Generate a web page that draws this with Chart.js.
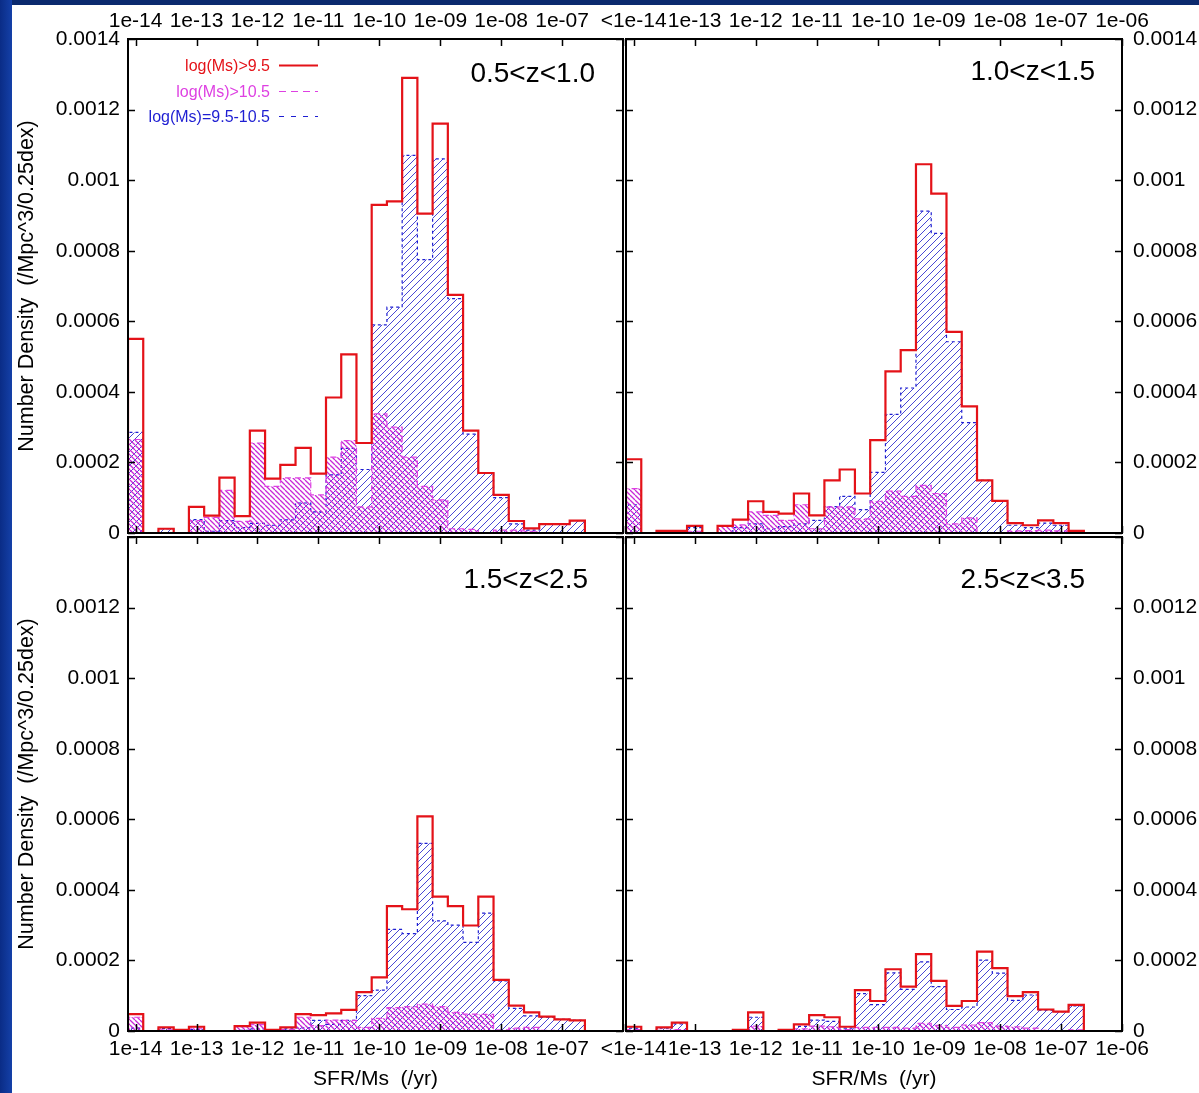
<!DOCTYPE html>
<html>
<head>
<meta charset="utf-8">
<title>Specific star formation rate distributions</title>
<script src="https://cdn.jsdelivr.net/npm/chart.js@4.4.1/dist/chart.umd.min.js"></script>
<style>
  html, body { margin: 0; padding: 0; background: #ffffff; }
  body { width: 1199px; height: 1093px; position: relative; overflow: hidden; }
  .band-top { position: absolute; left: 0; top: 0; width: 1199px; height: 5px; background: #0b2a6e; }
  .band-left { position: absolute; left: 0; top: 0; width: 12px; height: 1093px;
               background: linear-gradient(to right, #0a2c86, #1440a8); }
  canvas.panel { position: absolute; }
</style>
</head>
<body>
<div class="band-top"></div>
<div class="band-left"></div>
<canvas class="panel" id="p1" width="640" height="560" style="left:0px;top:0px;"></canvas>
<canvas class="panel" id="p2" width="639" height="560" style="left:560px;top:0px;"></canvas>
<canvas class="panel" id="p3" width="640" height="583" style="left:0px;top:510px;"></canvas>
<canvas class="panel" id="p4" width="639" height="583" style="left:560px;top:510px;"></canvas>
<script>
// log10(SFR/Ms) bin centres, 0.25 dex wide; the first bin collects everything below 1e-14
const sSFRBinCenters = [-14.0, -13.75, -13.5, -13.25, -13.0, -12.75, -12.5, -12.25, -12.0, -11.75,
                        -11.5, -11.25, -11.0, -10.75, -10.5, -10.25, -10.0, -9.75, -9.5, -9.25,
                        -9.0, -8.75, -8.5, -8.25, -8.0, -7.75, -7.5, -7.25, -7.0, -6.75];
const binWidthDex = 0.25;

const decadeTicks = [-14, -13, -12, -11, -10, -9, -8, -7, -6];
const leftTickLabels = ['1e-14', '1e-13', '1e-12', '1e-11', '1e-10', '1e-09', '1e-08', '1e-07', ''];
const rightTickLabels = ['<1e-14', '1e-13', '1e-12', '1e-11', '1e-10', '1e-09', '1e-08', '1e-07', '1e-06'];
const densityTicks = [0, 0.0002, 0.0004, 0.0006, 0.0008, 0.001, 0.0012, 0.0014];

const panelTitles = ['0.5<z<1.0', '1.0<z<1.5', '1.5<z<2.5', '2.5<z<3.5'];
const seriesNames = ['log(Ms)>9.5', 'log(Ms)>10.5', 'log(Ms)=9.5-10.5'];
const xAxisTitle = 'SFR/Ms  (/yr)';
const yAxisTitle = 'Number Density  (/Mpc^3/0.25dex)';

// number density per 0.25 dex, 0.5<z<1.0
const allMassZ1  = [0.00055, 0, 0.000012, 0, 0.000074, 0.000049, 0.000157, 0.000048, 0.00029, 0.000154,
                    0.000193, 0.000241, 0.000168, 0.000384, 0.000506, 0.000255, 0.00093, 0.00094, 0.00129, 0.000905,
                    0.00116, 0.000675, 0.00029, 0.00017, 0.000108, 0.000034, 0.000013, 0.000025, 0.000025, 0.000035];
const highMassZ1 = [0.000265, 0, 0, 0, 0.000035, 0.000044, 0.000121, 0.000033, 0.000255, 0.000132,
                    0.000156, 0.000156, 0.000108, 0.000215, 0.000262, 0.000074, 0.000338, 0.0003, 0.000215, 0.000132,
                    0.000094, 0.000012, 0.00001, 0, 0.000008, 0.000008, 0.000005, 0, 0, 0];
const midMassZ1  = [0.000285, 0, 0.000012, 0, 0.000038, 0.000005, 0.000035, 0.000015, 0.000027, 0.000022,
                    0.000037, 0.000085, 0.00006, 0.000165, 0.00024, 0.00018, 0.00059, 0.00064, 0.00107, 0.000775,
                    0.00106, 0.000664, 0.00028, 0.00017, 0.0001, 0.000026, 0.000008, 0.000025, 0.000025, 0.000035];

// 1.0<z<1.5
const allMassZ2  = [0.000209, 0, 0.000006, 0.000006, 0.00002, 0, 0.00002, 0.000038, 0.00009, 0.00006,
                    0.000055, 0.000112, 0.00005, 0.000149, 0.00018, 0.000112, 0.000263, 0.000458, 0.000518, 0.001045,
                    0.000962, 0.00057, 0.000359, 0.000149, 0.000091, 0.000028, 0.000022, 0.000036, 0.000028, 0.000006];
const highMassZ2 = [0.000126, 0, 0, 0, 0.000005, 0, 0.00002, 0.000023, 0.00006, 0.00005,
                    0.000036, 0.00008, 0.000012, 0.000074, 0.000074, 0.00004, 0.00009, 0.000119, 0.000104, 0.000135,
                    0.000112, 0.000026, 0.000043, 0, 0, 0.000006, 0.000007, 0.000008, 0.000006, 0];
const midMassZ2  = [0.00008, 0, 0.000006, 0.000006, 0.000015, 0, 0, 0.000015, 0.000026, 0.000012,
                    0.000018, 0.000026, 0.000036, 0.000075, 0.000104, 0.000066, 0.000172, 0.000336, 0.000411, 0.000912,
                    0.000849, 0.000542, 0.000313, 0.000149, 0.000091, 0.000022, 0.000015, 0.000028, 0.000022, 0.000006];

// 1.5<z<2.5
const allMassZ3  = [0.000048, 0, 0.00001, 0.000003, 0.000012, 0, 0, 0.000014, 0.000024, 0.000003,
                    0.00001, 0.000048, 0.000045, 0.00005, 0.00006, 0.00011, 0.000152, 0.000354, 0.000345, 0.000608,
                    0.000381, 0.000354, 0.000299, 0.000381, 0.000145, 0.000072, 0.000053, 0.000041, 0.000033, 0.00003];
const highMassZ3 = [0.000039, 0, 0.000003, 0, 0.000008, 0, 0, 0.000012, 0.000018, 0,
                    0.000004, 0.000039, 0.000015, 0.000031, 0.00003, 0.00001, 0.000036, 0.000066, 0.000069, 0.000076,
                    0.000069, 0.000053, 0.000048, 0.000047, 0.000003, 0.000008, 0.00001, 0.000002, 0, 0];
const midMassZ3  = [0.000008, 0, 0.000007, 0.000003, 0.000004, 0, 0, 0.000002, 0.000006, 0.000003,
                    0.000006, 0.000009, 0.00003, 0.000019, 0.00003, 0.0001, 0.000116, 0.000288, 0.000276, 0.000532,
                    0.000312, 0.0003, 0.000251, 0.000334, 0.000142, 0.000064, 0.000043, 0.000039, 0.000033, 0.00003];

// 2.5<z<3.5
const allMassZ4  = [0.000012, 0, 0.00001, 0.000024, 0, 0, 0, 0.000003, 0.000053, 0,
                    0.000003, 0.000019, 0.000045, 0.000039, 0.000012, 0.000116, 0.000085, 0.000175, 0.000126, 0.000218,
                    0.000142, 0.000071, 0.000085, 0.000225, 0.000178, 0.000099, 0.00011, 0.000061, 0.000055, 0.000074];
const highMassZ4 = [0.000004, 0, 0.000002, 0.000004, 0, 0, 0, 0, 0.000014, 0,
                    0, 0.000006, 0.000014, 0.000012, 0.000004, 0.00001, 0.00001, 0.00001, 0.000008, 0.000022,
                    0.000016, 0.00001, 0.000017, 0.000024, 0.000014, 0.000012, 0.000008, 0.000002, 0, 0.000003];
const midMassZ4  = [0.000008, 0, 0.000008, 0.00002, 0, 0, 0, 0.000003, 0.000039, 0,
                    0.000003, 0.000013, 0.000031, 0.000027, 0.000008, 0.000106, 0.000075, 0.000165, 0.000118, 0.000196,
                    0.000126, 0.000061, 0.000068, 0.000201, 0.000164, 0.000087, 0.000102, 0.000059, 0.000055, 0.000071];

const FONT = '"Liberation Sans", Arial, Helvetica, sans-serif';
const RED = 'rgb(228, 18, 24)';
const MAGENTA = 'rgb(222, 64, 226)';
const BLUE = 'rgb(30, 30, 210)';
const HATCH_BLUE = 'rgb(72, 72, 212)';
const HATCH_MAGENTA = 'rgb(200, 40, 215)';

Chart.defaults.font.family = FONT;
Chart.defaults.font.size = 21;
Chart.defaults.color = '#000';

// diagonal hatching tile; dir = +1 for "///", -1 for "\\\"
function hatch(color, spacing, dir, width) {
  const c = document.createElement('canvas');
  c.width = spacing; c.height = spacing;
  const g = c.getContext('2d');
  g.strokeStyle = color;
  g.lineWidth = width;
  g.beginPath();
  for (let k = -1; k <= 1; k++) {
    if (dir > 0) { g.moveTo(k * spacing, spacing); g.lineTo(k * spacing + spacing, 0); }
    else { g.moveTo(k * spacing, 0); g.lineTo(k * spacing + spacing, spacing); }
  }
  g.stroke();
  return g.createPattern(c, 'repeat');
}

// histogram outline: a stepped path through the left edge of every non-empty bin,
// dropping to zero at the ends of each run of filled bins
function histogramPath(values) {
  const pts = [];
  let open = false;
  values.forEach((v, i) => {
    const lo = sSFRBinCenters[i] - binWidthDex / 2;
    if (v > 0) {
      if (!open) { pts.push({ x: lo, y: 0 }); open = true; }
      pts.push({ x: lo, y: v });
    } else if (open) {
      pts.push({ x: lo, y: 0 });
      pts.push({ x: lo, y: null });
      open = false;
    }
  });
  if (open) {
    const last = sSFRBinCenters[sSFRBinCenters.length - 1] + binWidthDex / 2;
    pts.push({ x: last, y: 0 });
  }
  return pts;
}

const panelDecor = {
  id: 'panelDecor',
  afterDatasetsDraw(chart, args, opts) {
    const { ctx, chartArea: a, scales: { x, y } } = chart;
    ctx.save();
    // inward tick marks on all four sides
    ctx.strokeStyle = '#000';
    ctx.lineWidth = 1.5;
    ctx.beginPath();
    x.ticks.forEach(t => {
      const px = Math.round(x.getPixelForValue(t.value)) + 0.5;
      ctx.moveTo(px, a.bottom); ctx.lineTo(px, a.bottom - opts.tick);
      ctx.moveTo(px, a.top); ctx.lineTo(px, a.top + opts.tick);
    });
    y.ticks.forEach(t => {
      const py = Math.round(y.getPixelForValue(t.value)) + 0.5;
      ctx.moveTo(a.left, py); ctx.lineTo(a.left + opts.tick, py);
      ctx.moveTo(a.right, py); ctx.lineTo(a.right - opts.tick, py);
    });
    ctx.stroke();
    // plot frame
    ctx.lineWidth = 2;
    ctx.strokeRect(a.left, a.top, a.right - a.left, a.bottom - a.top);
    // redshift label
    ctx.fillStyle = '#000';
    ctx.font = '28px ' + FONT;
    ctx.textAlign = 'right';
    ctx.textBaseline = 'middle';
    ctx.fillText(opts.title, a.right - opts.titleDx, a.top + opts.titleDy);
    // key
    if (opts.legend) {
      ctx.font = '16px ' + FONT;
      const colors = [RED, MAGENTA, BLUE];
      const dashes = [[], [7, 5], [5, 7]];
      const rows = [28, 54, 79];
      seriesNames.forEach((name, i) => {
        const yy = a.top + rows[i];
        ctx.fillStyle = colors[i];
        ctx.fillText(name, a.left + 142, yy);
        ctx.strokeStyle = colors[i];
        ctx.lineWidth = i === 0 ? 2 : 1.2;
        ctx.setLineDash(dashes[i]);
        ctx.beginPath();
        ctx.moveTo(a.left + 151, yy - 1.5);
        ctx.lineTo(a.left + 190, yy - 1.5);
        ctx.stroke();
      });
      ctx.setLineDash([]);
    }
    ctx.restore();
  }
};

function makePanel(id, cfg) {
  const hatchBlue = hatch(HATCH_BLUE, 7, 1, 1);
  const hatchMag = hatch(HATCH_MAGENTA, 5, -1, 1.3);
  const isLeft = cfg.side === 'left';
  const labels = isLeft ? leftTickLabels : rightTickLabels;
  return new Chart(document.getElementById(id), {
    type: 'line',
    data: {
      datasets: [
        { label: seriesNames[0], data: histogramPath(cfg.all), stepped: true, fill: false,
          borderColor: RED, borderWidth: 2.2, pointRadius: 0 },
        { label: seriesNames[1], data: histogramPath(cfg.high), stepped: true, fill: 'origin',
          backgroundColor: hatchMag, borderColor: MAGENTA, borderWidth: 1.2, borderDash: [6, 4], pointRadius: 0 },
        { label: seriesNames[2], data: histogramPath(cfg.mid), stepped: true, fill: 'origin',
          backgroundColor: hatchBlue, borderColor: BLUE, borderWidth: 1.2, borderDash: [3, 3], pointRadius: 0 }
      ]
    },
    options: {
      responsive: false,
      animation: false,
      events: [],
      layout: { padding: cfg.padding },
      plugins: {
        legend: { display: false },
        tooltip: { enabled: false },
        panelDecor: { tick: 7, title: cfg.title, titleDx: cfg.titleDx, titleDy: cfg.titleDy, legend: !!cfg.legend }
      },
      scales: {
        x: {
          type: 'linear',
          position: cfg.top ? 'top' : 'bottom',
          min: -14.125,
          max: -6.0,
          afterBuildTicks: s => { s.ticks = decadeTicks.map(v => ({ value: v })); },
          afterFit: s => { s.height = cfg.xAxisSize; s.paddingLeft = 0; s.paddingRight = 0; },
          ticks: { autoSkip: false, maxRotation: 0, padding: cfg.top ? 5 : 6,
                   callback: (v, i) => labels[i] },
          grid: { display: false, drawTicks: false, tickLength: 0 },
          border: { display: false },
          title: { display: !cfg.top, text: xAxisTitle, font: { size: 21 }, padding: { top: 0, bottom: 1 } }
        },
        y: {
          type: 'linear',
          position: isLeft ? 'left' : 'right',
          min: 0,
          max: 0.0014,
          afterBuildTicks: s => { s.ticks = densityTicks.map(v => ({ value: v })); },
          afterFit: s => { s.width = cfg.yAxisSize; s.paddingTop = 0; s.paddingBottom = 0; },
          ticks: { padding: isLeft ? 8 : 11,
                   callback: v => (cfg.top || v < 0.00139) ? String(Number(v.toFixed(4))) : '' },
          grid: { display: false, drawTicks: false, tickLength: 0 },
          border: { display: false },
          title: { display: isLeft, text: yAxisTitle, font: { size: 21.5 }, padding: { top: 14, bottom: 0 } }
        }
      }
    },
    plugins: [panelDecor]
  });
}

makePanel('p1', { side: 'left', top: true, all: allMassZ1, high: highMassZ1, mid: midMassZ1,
  padding: { left: 0, right: 17, top: 0, bottom: 27 }, xAxisSize: 39, yAxisSize: 128,
  title: panelTitles[0], titleDx: 28, titleDy: 35, legend: true });
makePanel('p2', { side: 'right', top: true, all: allMassZ2, high: highMassZ2, mid: midMassZ2,
  padding: { left: 66, right: 0, top: 0, bottom: 27 }, xAxisSize: 39, yAxisSize: 77,
  title: panelTitles[1], titleDx: 27, titleDy: 33 });
makePanel('p3', { side: 'left', top: false, all: allMassZ3, high: highMassZ3, mid: midMassZ3,
  padding: { left: 0, right: 17, top: 27, bottom: 0 }, xAxisSize: 62, yAxisSize: 128,
  title: panelTitles[2], titleDx: 35, titleDy: 43 });
makePanel('p4', { side: 'right', top: false, all: allMassZ4, high: highMassZ4, mid: midMassZ4,
  padding: { left: 66, right: 0, top: 27, bottom: 0 }, xAxisSize: 62, yAxisSize: 77,
  title: panelTitles[3], titleDx: 37, titleDy: 43 });
</script>
</body>
</html>
